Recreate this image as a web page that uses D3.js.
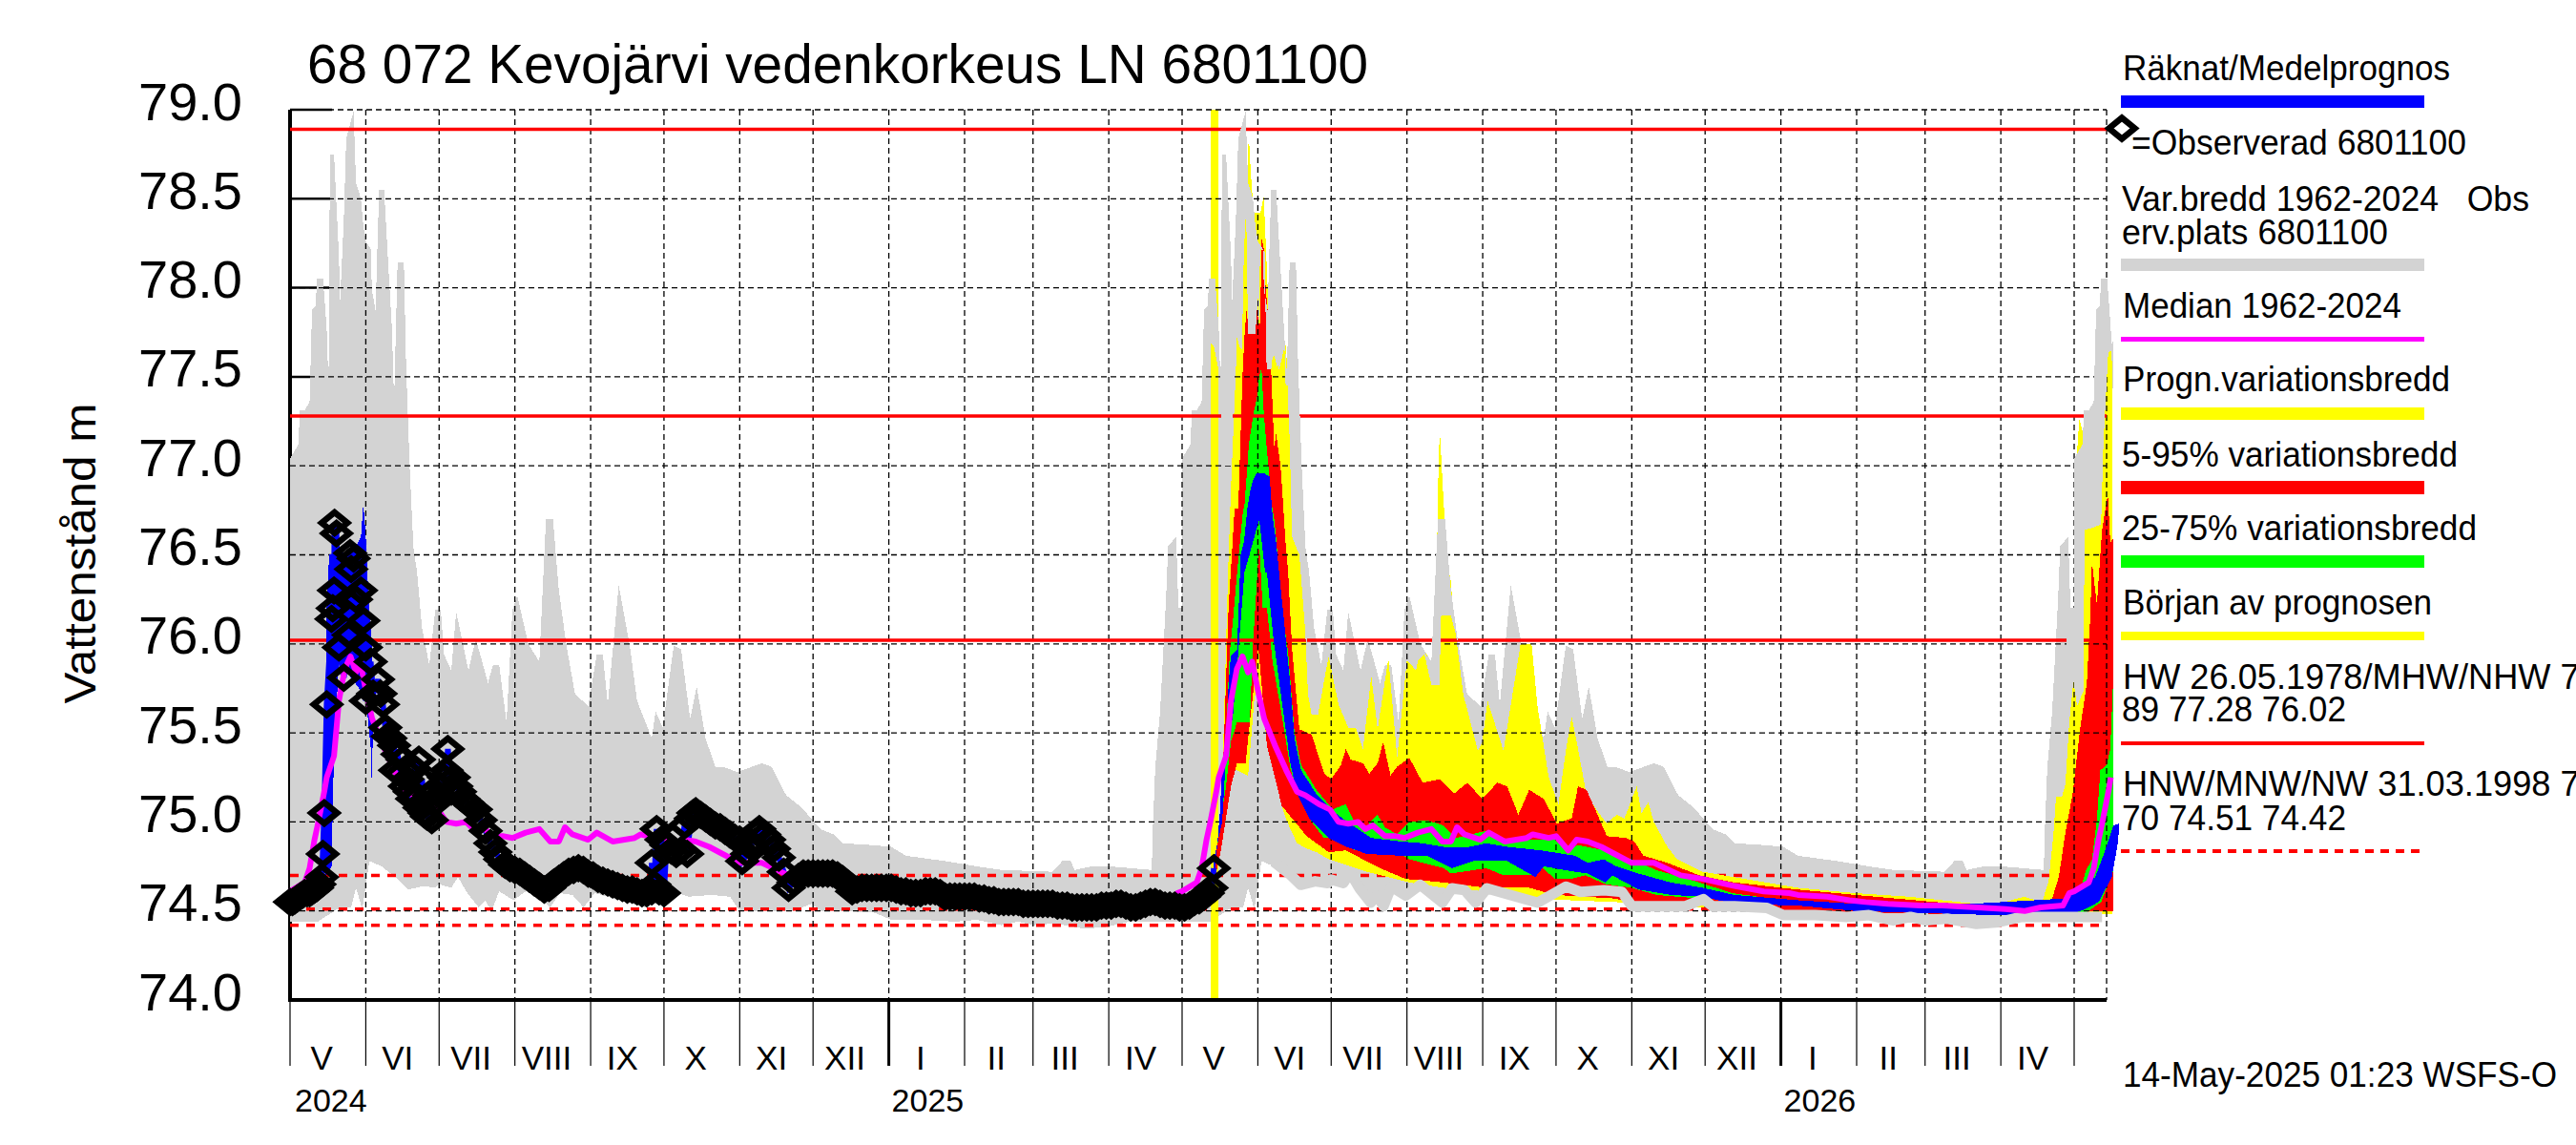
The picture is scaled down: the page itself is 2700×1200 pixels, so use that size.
<!DOCTYPE html>
<html><head><meta charset="utf-8">
<script src="https://cdnjs.cloudflare.com/ajax/libs/d3/7.8.5/d3.min.js"></script>
<style>html,body{margin:0;padding:0;background:#fff;overflow:hidden}svg{display:block}text{font-family:"Liberation Sans",Arial,sans-serif;fill:#000}</style>
</head><body><svg id="c" width="2700" height="1200"></svg>
<script>
// ---- data: days counted from 2024-05-01, water level in metres ----
const startDate = new Date(Date.UTC(2024,4,1));
const forecastDay = 378.3;
const yTicks = [74,74.5,75,75.5,76,76.5,77,77.5,78,78.5,79];
const monthLabels = ["V","VI","VII","VIII","IX","X","XI","XII","I","II","III","IV","V","VI","VII","VIII","IX","X","XI","XII","I","II","III","IV"];
const yearLabels = ["2024","2025","2026"];
const highLevels = [78.89,77.28,76.02];
const lowLevels = [74.70,74.51,74.42];

const grayMaxDays=[0,3.4,4,6,8,9,10.5,11,13.5,15,15.5,16,16.2,16.5,18,20,20.5,22,23,24.6,26,27,29,30,31,33,33.5,35,36,36.5,38.5,40,41.7,42.6,44,46.6,47.5,49,50.5,52,54,57,59.4,61.7,63,66,68,73,76,81,83,85.6,88.6,91,93,97.5,102,104.7,107.6,110,113,116.6,122,125.5,128,130,134.5,139,142,148,149.6,152.5,157,160,163.7,166.4,170,174,177,183,193,197,203,208.5,213.3,217,222.4,226.3,238,246,252,268,281,291.4,312,316,319.4,321,328,335.7,352.6,353,354,356,358.4,359.3,362.6,363.5,365];
const grayMaxVals=[77.04,77.12,77.31,77.31,77.36,77.88,77.9,78.05,78.05,77.77,77.56,77.56,78.44,78.75,78.75,78.18,77.93,78.38,78.84,78.92,78.99,78.59,78.5,78.35,78.26,78.22,77.99,77.87,78.35,78.55,78.55,78.18,77.77,77.36,78.14,78.14,77.56,76.98,76.54,76.4,76.09,75.88,76.19,76.19,75.94,75.85,76.18,75.85,76.03,75.78,75.88,75.88,75.56,76.19,76.27,76.0,75.9,76.7,76.7,76.3,76.0,75.72,75.65,75.94,75.94,75.66,76.33,75.99,75.68,75.47,75.62,75.53,75.99,75.97,75.58,75.76,75.47,75.31,75.31,75.28,75.33,75.31,75.15,75.09,75.02,74.96,74.93,74.88,74.87,74.86,74.81,74.78,74.75,74.73,74.72,74.78,74.78,74.73,74.75,74.75,74.73,74.95,75.3,75.62,76.25,76.55,76.6,76.2,76.2];
const grayMinDays=[0,6,11.4,19.2,25,27,29.6,32.5,37.5,44,48.5,54.4,59.6,60.9,66,68.7,72.6,77.2,79.8,82.4,85.6,91.5,97.4,106.5,110.4,115.6,120.1,124.7,135,145.5,157,163,172.6,180,184,206,213.3,217,226,239.3,246,259,272,281,291,298,304.4,313,325,334,343.5,356.5,365];
const grayMinVals=[74.44,74.44,74.44,74.51,74.52,74.63,74.51,74.78,74.75,74.68,74.62,74.64,74.63,74.65,74.63,74.69,74.6,74.52,74.56,74.5,74.61,74.56,74.62,74.52,74.6,74.59,74.52,74.6,74.56,74.52,74.61,74.58,74.59,74.58,74.5,74.5,74.54,74.5,74.5,74.49,74.45,74.45,74.44,74.45,74.42,74.44,74.42,74.43,74.4,74.41,74.44,74.44,74.44];

// gray overlay spots lying over the forecast colours: lower edge of the overlay
const overMainDays=[376,378,380.5,382,385,386.9,388,389.5,390.3,391.2,392,395,396,396.5,396.9,399,399.3,400,401.4,402.3,404,404.5,407,408,409,410,413,415.4,416.5];
const overMainVals=[77.7,77.67,77.5,77,77,77.7,77.75,77.65,78.2,78.45,77.74,77.74,77.95,77.8,78.22,78.2,77.6,77.54,77.54,77.64,77.55,77.75,77.7,77.5,77.15,76.6,76.5,76.07,75.72];
const overSpikeDays=[464,467,470.3,471,475,478];
const overSpikeVals=[75.95,75.77,75.77,76.16,76.16,76.0];
const overEndDays=[726,729.4,731.2,733.9,734.2,737,741,742,744,746];
const overEndVals=[75.5,75.82,75.65,75.74,76.64,76.65,76.67,77.13,77.65,77.7];

const medianDays=[0,6,8,10,11.4,14,15,18,20,22.4,24.7,27,28.7,31,33.6,38,42.6,47,50.4,56,60.5,64,68,72,75,78,83,87.4,91,96.4,102,106.5,110,112.5,115.5,122,125.5,132,141,143.5,150,153,158,161.4,166,171.5,177,184,193,204,213,226,238,248.5,252,264,273,279.7,288.8,302,311,325.3,337,344.8,351.3,360.4,363];
const medianVals=[74.61,74.66,74.74,74.9,74.99,75.17,75.25,75.37,75.68,75.86,75.93,75.84,75.9,75.74,75.58,75.43,75.29,75.17,75.15,75.1,75.07,75,74.99,75,74.96,74.98,74.92,74.92,74.91,74.94,74.96,74.89,74.89,74.97,74.93,74.9,74.94,74.89,74.91,74.93,74.91,74.92,74.84,74.9,74.89,74.86,74.82,74.77,74.77,74.7,74.68,74.64,74.61,74.6,74.59,74.58,74.56,74.55,74.54,74.53,74.53,74.52,74.51,74.5,74.52,74.53,74.6];

const yellowUpDays=[378,381,383.8,385,387,387.4,389,390,391,392.3,393,394.3,397,398.4,399,400,401.4,403,404.7,407.3,408,409,410.5,412.5,413.8,415.4,416.5,418,420.6,424,425,426,429,433,436,439,442.4,445,449.4,453,457,460.7,461.6,465,467.7,469,469.5,470,470.4,471,471.8,473.5,475,476,480,486,487.8,490,496.5,503.5,508,510.4,515,519,522,524.4,527,530.5,535,538.8,542.7,546,551,553,555.8,558,563.6,567.5,578,590.9,617,640.4,662.5,690,701.5,709.4,716.9,719.6,721.6,722.6,725,726.4,728,729.4,730.5,731.2,732.1,733,734.6,737,740.7,741.6,744,745.8];
const yellowUpVals=[74.74,75,76.4,76.88,77.53,77.72,77.65,78.19,78.42,78.86,78.67,78.42,78.42,78.51,78.33,78,77.6,77.62,77.54,77.69,77.56,77.3,77.17,76.58,76.4,76.07,75.72,75.6,75.6,75.86,75.93,75.86,75.66,75.53,75.53,75.41,75.82,75.52,75.92,75.36,75.91,75.85,75.91,75.95,75.77,75.77,76.76,77.03,77.2,77.06,76.85,76.46,76.35,76.16,75.72,75.4,75.45,75.68,75.4,76,76,75.65,75.25,75.1,75.4,75.59,75.41,75.15,75.06,74.99,75.04,75.02,75.2,75.05,75.11,75,74.86,74.79,74.72,74.69,74.63,74.6,74.58,74.54,74.55,74.58,74.55,74.67,74.94,75.14,75.14,75.21,75.56,75.75,76.39,77.08,77.26,77.22,77.13,76.9,76.67,77.13,77.64,77.65];
const yellowLoDays=[378,381,385.8,392,394.5,396,400,405.8,408,412,416,420,425,440.7,458,472,489,507,524,542,577,623,700,745.8];
const yellowLoVals=[74.6,74.9,75.3,75.26,75.68,75.79,75.43,75.09,75,74.88,74.85,74.83,74.79,74.72,74.66,74.63,74.61,74.57,74.56,74.55,74.52,74.5,74.48,74.48];

const redUpDays=[378,381,384,386.5,388,389.7,390.6,391.4,392.3,395,395.6,396.2,397,397.5,398.4,399.2,400,401.4,402.7,403.4,404,405.3,406.3,407.3,408.4,410,413,418,423.2,426,430,432,434,439,441.6,445,447.3,450.3,453,458,463.4,470.3,476.4,481.7,487.8,494,498,502.6,507,513,518.3,524.4,527,530.5,535,538.8,546.6,550,553.8,563.6,576.6,590.9,617,640.4,690,717.6,721,723.7,726.4,729.4,732.5,735.2,736.6,737.3,739.3,741.4,743.8,744.8,745.9];
const redUpVals=[74.74,75,76.2,76.76,76.76,77.5,77.74,77.88,77.74,77.74,77.94,77.8,77.8,78.28,78.22,78,77.87,77.54,77.1,77.18,77.13,77,76.8,76.58,76.4,75.97,75.52,75.49,75.27,75.24,75.32,75.41,75.35,75.33,75.27,75.33,75.45,75.26,75.31,75.36,75.22,75.24,75.16,75.22,75.13,75.22,75.2,75.04,75.18,75.13,74.99,75.02,75.2,75.18,75.04,74.92,74.91,74.89,74.81,74.77,74.7,74.66,74.62,74.59,74.53,74.55,74.57,74.69,74.94,75.16,75.53,75.78,76.15,76.46,76.22,76.64,76.84,76.57,76.59];
const redLoDays=[378,381,385,387.5,391,392.7,396.2,399.7,405.8,410,416,425,432,446,456.4,472,489.5,507,517.4,542,550.6,576.7,603,640,700,745.9];
const redLoVals=[74.65,74.85,75.2,75.33,75.33,75.56,75.98,75.43,75.09,75.02,74.92,74.83,74.84,74.74,74.68,74.66,74.63,74.63,74.59,74.57,74.54,74.55,74.51,74.49,74.48,74.5];

const greenUpDays=[378,381,383,384.5,385.8,387.5,389.7,390.6,391.4,392.3,394.3,395.6,396.6,397.5,398.4,399.5,400.5,401.4,402.7,403.6,405.8,408.4,411,413.7,420,426.7,432,435.5,440,445,448,453,458,465,472,477,489.5,496.5,507,517.4,522.6,527,538,549,559,576.7,590,617,640,700,729,732,734.6,737.3,739.3,740.7,743.4,744.8,745.9];
const greenUpVals=[74.74,75,75.5,75.95,76.13,76.4,76.72,76.79,76.94,77.12,77.3,77.38,77.5,77.55,77.3,77.12,76.97,76.8,76.7,76.58,76.2,75.95,75.5,75.32,75.18,75.07,75.1,75,74.97,75.04,74.97,74.93,75,75.01,74.98,74.91,74.95,74.89,74.9,74.9,74.84,74.87,74.84,74.79,74.73,74.66,74.6,74.55,74.53,74.5,74.5,74.58,74.72,74.79,75.01,75.29,75.32,75.41,75.78];
const greenLoDays=[378,380,383,385,387.5,392.7,394,396.6,398,399.7,402,405.8,409.3,412,418,423,432,435.5,446,452,458,472,475,489.5,496.5,508.7,512,517.4,524,530,538.4,549,559,576.7,640,730,735,741,745.9];
const greenLoVals=[74.7,74.95,75.2,75.45,75.56,75.56,76,76.56,76.2,76.2,75.9,75.6,75.3,75.16,75,74.91,74.91,74.84,74.83,74.84,74.79,74.74,74.71,74.74,74.7,74.7,74.75,74.68,74.68,74.7,74.65,74.63,74.59,74.57,74.52,74.48,74.49,74.55,74.72];

const blueUpDays=[378,381.4,383,384,384.9,387.5,388.7,389,390.4,391.7,393,394,395.6,398.2,400.8,402,403.4,404.7,406.7,409.3,411,413.7,419.8,426.7,433.7,442.4,454.6,463.4,472,482.5,489.5,498,512,525.8,531,537.5,542.7,551.8,564.9,577.9,590.9,617,640.4,688,726.4,731.8,738.6,742.7,746.1,748.4];
const blueUpVals=[74.79,75,75.38,75.77,75.93,75.97,76.4,76.5,76.58,76.76,76.87,76.92,76.96,76.96,76.94,76.72,76.58,76.4,76.13,75.77,75.47,75.29,75.16,75.06,74.99,74.91,74.89,74.88,74.86,74.86,74.88,74.86,74.84,74.81,74.77,74.79,74.75,74.71,74.66,74.63,74.59,74.56,74.54,74.54,74.57,74.62,74.69,74.84,74.98,74.99];
const blueLoDays=[378,380.5,381.4,385.8,388,390.5,396.6,399,399.7,402.3,405.8,409.3,412,417,425,432,440.7,454.6,465,475.6,484.3,498,509.6,513,525.8,531,538.2,541,551.8,564.9,577.9,590.9,617,640.4,688,726.4,734.6,740,745.4,748];
const blueLoVals=[74.63,75.06,75.32,75.59,75.95,76.4,76.7,76.4,76.4,76.04,75.68,75.33,75.16,75.02,74.91,74.86,74.82,74.81,74.81,74.74,74.78,74.78,74.69,74.75,74.72,74.71,74.66,74.7,74.62,74.59,74.58,74.54,74.53,74.5,74.48,74.47,74.51,74.55,74.69,74.89];

// computed band of the first spring, before the forecast
const calcUpDays=[14,14.5,15,16,20,25,27,29,30,31,32,33.5,34];
const calcUpVals=[74.85,75.3,76.2,76.5,76.52,76.5,76.55,76.6,76.79,76.6,76.3,76,75.6];
const calcLoDays=[14,14.5,17,18,20,31,33,33.5,34];
const calcLoVals=[74.85,74.7,74.75,75.4,75.9,75.7,75.42,75.2,75.6];

const obsDays=[0,1,2,3,4,5,6,7,8,9,10,11,12,13,13.4,14,15,17,17.5,18,18.2,19,20,22,24,24.6,25,26,27,29,30,31,31,33,34,36,37,38,39,40,41,42.6,43,44,45,46,47,48,49,50,51,52.7,53,54,55,56,57,58,59,61,62,63,64,64.6,66,67,68,69.5,71,72.5,74,76,78,80,82,84,86,88,90,92,94,96,98,100,102,104,106,108,110,112,114,116,118,120,122,124,126,128,130,132,134,136,138,140,142,144,146,148,148,149,150,151,152,153,154,156,158,160,161.4,162.5,164,165,166,168,170,172,174,176,178,180,182,184,185,187,189,191,192,194,196,198,200,202,204,206,208,210,212,214,216,218,220,222,224,226,228,230,232,234,236,238,240,242,244,246,248,250,252,254,256,258,260,262,264,266,268,270,272,274,276,278,280,282,284,286,288,290,292,294,296,298,300,302,304,306,308,310,312,314,316,318,320,322,324,326,328,330,332,334,336,338,340,342,344,346,348,350,352,354,356,358,360,362,364,366,368,370,372,374,375.5,377,378];
const obsVals=[74.55,74.55,74.56,74.57,74.58,74.59,74.6,74.6,74.6,74.61,74.62,74.63,74.65,74.69,74.82,75.05,75.66,76.14,76.2,76.3,76.68,76.62,75.98,75.81,76.05,76.51,76.42,76.48,76.25,76.3,76.13,75.98,75.68,75.9,75.72,75.8,75.72,75.66,75.53,75.48,75.47,75.43,75.29,75.38,75.27,75.35,75.2,75.24,75.17,75.13,75.3,75.35,75.08,75.24,75.05,75.03,75.15,75.01,75.1,75.15,75.2,75.25,75.29,75.41,75.17,75.25,75.2,75.17,75.13,75.11,75.09,75.07,75.01,74.95,74.88,74.83,74.79,74.76,74.74,74.73,74.72,74.7,74.68,74.66,74.64,74.62,74.63,74.66,74.68,74.7,74.72,74.73,74.74,74.73,74.71,74.7,74.68,74.67,74.66,74.65,74.64,74.63,74.62,74.62,74.61,74.6,74.6,74.61,74.77,74.65,74.96,74.61,74.9,74.6,74.87,74.84,74.82,74.84,74.98,74.82,75.02,75.05,75.06,75.04,75.02,75,74.98,74.97,74.95,74.93,74.91,74.9,74.78,74.82,74.88,74.94,74.96,74.93,74.9,74.85,74.8,74.72,74.63,74.66,74.69,74.71,74.71,74.71,74.71,74.71,74.71,74.71,74.7,74.68,74.65,74.61,74.62,74.63,74.63,74.63,74.63,74.63,74.63,74.63,74.62,74.61,74.61,74.6,74.6,74.6,74.61,74.61,74.61,74.6,74.58,74.58,74.58,74.58,74.58,74.58,74.58,74.57,74.57,74.56,74.56,74.55,74.55,74.55,74.55,74.55,74.54,74.54,74.54,74.54,74.54,74.54,74.54,74.53,74.53,74.53,74.52,74.52,74.52,74.52,74.52,74.52,74.53,74.53,74.53,74.54,74.54,74.53,74.52,74.52,74.53,74.54,74.55,74.55,74.54,74.53,74.53,74.53,74.52,74.52,74.53,74.55,74.56,74.58,74.6,74.63,74.74];

// ---- scales ----
const svg = d3.select("#c");
const toDate = d => d3.utcHour.offset(startDate, Math.round(d*24));
const x = d3.scaleUtc().domain([startDate, new Date(Date.UTC(2026,4,1))]).range([304,2174]);
const y = d3.scaleLinear().domain([74,79]).range([1048,115]);
const X = d => x(toDate(d));
const rightX = 2208, GRAY="#d3d3d3", YEL="#ffff00", RED="#ff0000", GRN="#00ff00", BLU="#0000ff", MAG="#ff00ff";
const line = d3.line().x(p=>X(p[0])).y(p=>y(p[1]));
const pts = (ds,vs,shift=0) => ds.map((d,i)=>[d+shift,vs[i]]);
function band(g,top,bottom,color){
  g.append("path").attr("d", line(top.concat(bottom.slice().reverse()))+"Z").attr("fill",color).attr("shape-rendering","crispEdges");
}
const gMax = k => pts(grayMaxDays,grayMaxVals,365*k).filter(p=>p[0]<746.1);
const gMin = k => pts(grayMinDays,grayMinVals,365*k).filter(p=>p[0]<746.1);
const between = (arr,a,b)=>arr.filter(p=>p[0]>=a&&p[0]<=b);
const allMax = [0,1,2].flatMap(gMax);

// axis lines and long ticks, lying under the gray
const base = svg.append("g");
base.append("line").attr("x1",304).attr("x2",304).attr("y1",y(79)).attr("y2",y(74)).attr("stroke","#000").attr("stroke-width",4);
base.selectAll(".yt").data(yTicks.filter(v=>v>74)).join("line").attr("x1",304).attr("x2",348).attr("y1",v=>y(v)).attr("y2",v=>y(v)).attr("stroke","#000").attr("stroke-width",2.5);

// gray climatology repeats every year
const grayG = svg.append("g");
[0,1,2].forEach(k=>band(grayG,gMax(k),gMin(k),GRAY));

// low-level lines under the forecast
const dashLow = svg.append("g");
dashLow.selectAll("line").data(lowLevels).join("line").attr("x1",304).attr("x2",rightX).attr("y1",v=>y(v)).attr("y2",v=>y(v)).attr("stroke",RED).attr("stroke-width",3.5).attr("stroke-dasharray","9 8");

// forecast bands
const fc = svg.append("g");
fc.append("rect").attr("x",X(forecastDay)-4).attr("width",8).attr("y",y(79)).attr("height",y(74)-y(79)).attr("fill",YEL);
band(fc,pts(yellowUpDays,yellowUpVals),pts(yellowLoDays,yellowLoVals),YEL);
band(fc,pts(redUpDays,redUpVals),pts(redLoDays,redLoVals),RED);
band(fc,pts(greenUpDays,greenUpVals),pts(greenLoDays,greenLoVals),GRN);

// grid
const grid = svg.append("g").attr("stroke","#000").attr("stroke-width",1.3).attr("stroke-dasharray","6 4");
grid.selectAll(".h").data(yTicks.filter(v=>v>74)).join("line").attr("x1",304).attr("x2",rightX).attr("y1",v=>y(v)).attr("y2",v=>y(v));
const monthStarts = d3.utcMonth.range(startDate,new Date(Date.UTC(2026,4,2)));
grid.selectAll(".v").data(monthStarts.slice(1)).join("line").attr("x1",d=>x(d)).attr("x2",d=>x(d)).attr("y1",y(79)).attr("y2",y(74));
grid.append("line").attr("x1",rightX).attr("x2",rightX).attr("y1",y(79)).attr("y2",y(74));

// solid level lines
svg.append("g").selectAll("line").data(highLevels).join("line").attr("x1",304).attr("x2",rightX).attr("y1",v=>y(v)).attr("y2",v=>y(v)).attr("stroke",RED).attr("stroke-width",3.5);

// computed / mean forecast
const bl = svg.append("g");
band(bl,pts(calcUpDays,calcUpVals),pts(calcLoDays,calcLoVals),BLU);
band(bl,pts(blueUpDays,blueUpVals),pts(blueLoDays,blueLoVals),BLU);
bl.append("path").attr("d",line(pts(obsDays,obsVals).sort((a,b)=>a[0]-b[0]))).attr("fill","none").attr("stroke",BLU).attr("stroke-width",6);

// gray parts lying over the forecast colours
const over = svg.append("g");
band(over,between(allMax,376,416.5),pts(overMainDays,overMainVals),GRAY);
band(over,between(allMax,464,478),pts(overSpikeDays,overSpikeVals),GRAY);
band(over,between(allMax,726,746),pts(overEndDays,overEndVals),GRAY);
over.append("path").attr("d",line(gMin(1).filter(p=>p[0]>=400).concat(gMin(2)))).attr("fill","none").attr("stroke",GRAY).attr("stroke-width",11).attr("transform","translate(0,-5)").attr("stroke-linejoin","round");

// axis bottom
const ax = svg.append("g");
ax.append("line").attr("x1",302).attr("x2",rightX).attr("y1",y(74)).attr("y2",y(74)).attr("stroke","#000").attr("stroke-width",4);
ax.selectAll(".m").data(monthStarts).join("line").attr("x1",d=>x(d)).attr("x2",d=>x(d)).attr("y1",y(74)).attr("y2",1117).attr("stroke","#000").attr("stroke-width",d=>d.getUTCMonth()===0?3:1.2);

// median
const med = [0,1,2].flatMap(k=>pts(medianDays,medianVals,365*k)).filter(p=>p[0]<=745);
svg.append("path").attr("d",line(med)).attr("fill","none").attr("stroke",MAG).attr("stroke-width",6).attr("stroke-linejoin","round");

// observed diamonds
const diamond = "M-13.5,0L0,-11L13.5,0L0,11Z";
svg.append("g").selectAll("path").data(pts(obsDays,obsVals)).join("path")
  .attr("d",diamond).attr("transform",p=>`translate(${X(p[0])},${y(p[1])})`).attr("fill","none").attr("stroke","#000").attr("stroke-width",6.5);

// text helper
function txt(px,py,s,size,opt={}){
  const t=svg.append("text").attr("x",px).attr("y",py).attr("font-size",size).text(s).attr("text-anchor",opt.anchor||"start");
  if(opt.len){t.attr("textLength",opt.len).attr("lengthAdjust","spacingAndGlyphs");}
  if(opt.rot){t.attr("transform",`rotate(-90 ${px} ${py})`);}
  return t;
}
txt(322,87,"68 072 Kevojärvi vedenkorkeus LN 6801100",58,{len:1112});
yTicks.forEach(v=>txt(254,y(v)+10.5,v.toFixed(1),56,{anchor:"end"}));
txt(100,580,"Vattenstånd m",46,{anchor:"middle",rot:true,len:315});
monthStarts.forEach((d,i)=>txt(x(d3.utcDay.offset(d,13)),1120.5,monthLabels[i],35,{anchor:"middle"}));
yearLabels.forEach((s,i)=>txt(x(new Date(Date.UTC(2024+i,i===0?4:0,1)))+(i===0?5:3),1164.5,s,34));

// legend
const lx=2223, lw=318;
const bar=(yy,h,c,dash)=>{ if(dash){svg.append("line").attr("x1",lx).attr("x2",lx+lw).attr("y1",yy+h/2).attr("y2",yy+h/2).attr("stroke",c).attr("stroke-width",h).attr("stroke-dasharray","9 7");} else {svg.append("rect").attr("x",lx).attr("y",yy).attr("width",lw).attr("height",h).attr("fill",c);} };
txt(2225,84,"Räknat/Medelprognos",36.5,{len:343}); bar(100,13,BLU);
svg.append("path").attr("d",diamond).attr("transform","translate(2224,134.5)").attr("fill","#fff").attr("stroke","#000").attr("stroke-width",6.5);
txt(2234,162,"=Observerad 6801100",36.5,{len:351});
txt(2224,221,"Var.bredd 1962-2024   Obs",36.5,{len:427}).style("white-space","pre");
txt(2224,255.5,"erv.plats 6801100",36.5,{len:279}); bar(271,13,GRAY);
txt(2225,333,"Median 1962-2024",36.5,{len:292}); bar(353,5,MAG);
txt(2225,410,"Progn.variationsbredd",36.5,{len:343}); bar(427,13,YEL);
txt(2224,489,"5-95% variationsbredd",36.5,{len:352}); bar(504,14,RED);
txt(2224,566,"25-75% variationsbredd",36.5,{len:372}); bar(582,13,GRN);
txt(2225,644,"Början av prognosen",36.5,{len:324}); bar(662,9,YEL);
txt(2225,722,"HW 26.05.1978/MHW/NHW 78.",36.2);
txt(2224,756,"89 77.28 76.02",36.5,{len:235}); bar(777,4,RED);
txt(2225,834,"HNW/MNW/NW 31.03.1998 74.",36.2);
txt(2224,870,"70 74.51 74.42",36.5,{len:235}); bar(890,4,RED,true);
txt(2225,1139,"14-May-2025 01:23 WSFS-O",36.5,{len:455});
</script></body></html>
